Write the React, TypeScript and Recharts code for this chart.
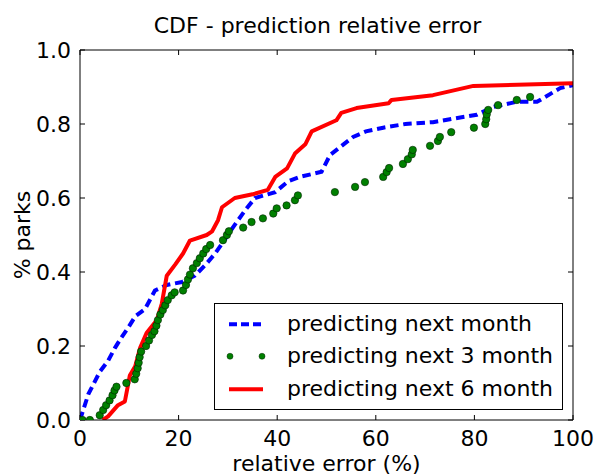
import React from 'react';
import { ComposedChart, Line, Scatter, XAxis, YAxis } from 'recharts';

const FONT = '"DejaVu Sans", sans-serif';

const xTicks = [0, 20, 40, 60, 80, 100];
const yTicks = [0, 0.2, 0.4, 0.6, 0.8, 1.0];

const seriesNames = ['predicting next month', 'predicting next 3 month', 'predicting next 6 month'];

// predicting next month (blue dashed)
const errNextMonth = [0, 1.7, 4, 5.7, 7.1, 8.5, 9.8, 11.2, 13.2, 15.2, 17.6, 20.7, 23.3, 25.5, 27.4, 29, 31, 33.5, 35.5, 39.6, 42.2, 44.6, 49, 50.7, 53, 55.4, 58, 61.5, 66, 71.6, 76, 80.5, 83.8, 88.6, 92.7, 97.4, 100];
const cdfNextMonth = [0, 0.07, 0.13, 0.16, 0.195, 0.225, 0.25, 0.28, 0.3, 0.35, 0.365, 0.373, 0.39, 0.42, 0.45, 0.48, 0.52, 0.567, 0.6, 0.616, 0.645, 0.657, 0.671, 0.716, 0.74, 0.765, 0.78, 0.79, 0.8, 0.805, 0.815, 0.825, 0.846, 0.86, 0.86, 0.897, 0.905];

// predicting next 3 month (green dots)
const errNext3Month = [0.5, 2, 4, 4.7, 5.3, 6, 6.6, 7, 7.4, 9.4, 11.1, 11.4, 11.7, 11.9, 12.1, 12.4, 13.4, 14, 14.6, 15.1, 15.5, 15.8, 16.3, 16.8, 17.3, 17.8, 18.6, 19.2, 20.9, 21.5, 21.9, 22.3, 22.9, 23.7, 24.3, 25, 25.6, 26.4, 29, 29.8, 30.2, 33.1, 34.8, 37.1, 39.2, 39.9, 41.9, 43.6, 44.2, 51.7, 55.8, 57.8, 61.5, 62.2, 62.7, 65.5, 66.5, 67.3, 67.5, 71, 72.6, 73, 75.3, 79.9, 82.2, 82.4, 82.5, 82.8, 84.8, 88.6, 91.3];
const cdfNext3Month = [0, 0, 0.013, 0.027, 0.04, 0.053, 0.067, 0.08, 0.09, 0.1, 0.11, 0.125, 0.14, 0.155, 0.17, 0.185, 0.2, 0.215, 0.23, 0.24, 0.255, 0.27, 0.285, 0.297, 0.31, 0.324, 0.337, 0.345, 0.35, 0.365, 0.38, 0.393, 0.41, 0.424, 0.437, 0.45, 0.462, 0.473, 0.486, 0.5, 0.51, 0.52, 0.535, 0.545, 0.558, 0.572, 0.58, 0.594, 0.607, 0.616, 0.63, 0.643, 0.657, 0.67, 0.681, 0.692, 0.705, 0.718, 0.73, 0.741, 0.754, 0.765, 0.778, 0.79, 0.8, 0.813, 0.826, 0.838, 0.851, 0.865, 0.873];

// predicting next 6 month (red solid)
const errNext6Month = [4.6, 5.7, 7.7, 9.1, 10.1, 11.2, 12.2, 13.5, 15.6, 16.6, 17.6, 19.3, 20.9, 22.3, 25.7, 26.8, 28, 28.8, 31.4, 35, 38.1, 39.6, 42, 43.6, 45.7, 47, 52, 53, 56.1, 62.6, 63.2, 71.6, 79.8, 100];
const cdfNext6Month = [0, 0.01, 0.04, 0.05, 0.12, 0.145, 0.195, 0.235, 0.27, 0.315, 0.39, 0.42, 0.45, 0.485, 0.5, 0.51, 0.54, 0.575, 0.6, 0.61, 0.622, 0.657, 0.68, 0.72, 0.745, 0.78, 0.81, 0.83, 0.843, 0.856, 0.865, 0.878, 0.903, 0.91];

const toPoints = (xs: number[], ys: number[]) => xs.map((x, i) => ({ x, y: ys[i] }));

const dataNextMonth = toPoints(errNextMonth, cdfNextMonth);
const dataNext3Month = toPoints(errNext3Month, cdfNext3Month);
const dataNext6Month = toPoints(errNext6Month, cdfNext6Month);

const BLUE = '#0000ff';
const GREEN = '#008000';
const RED = '#ff0000';

const tickStyle = { fontSize: 22, fill: '#000', fontFamily: FONT };

const GreenDot = (props: any) => {
  const { cx, cy } = props;
  if (cx == null || cy == null) return null;
  return <circle cx={cx} cy={cy} r={3.7} fill={GREEN} stroke="#002200" strokeWidth={0.6} />;
};

const YLabel = (props: any) => {
  const vb = props.viewBox || { x: 0, y: 50, width: 80, height: 370 };
  const cx = vb.x + 22;
  const cy = vb.y + vb.height / 2;
  return (
    <text
      x={cx}
      y={cy}
      transform={`rotate(-90 ${cx} ${cy})`}
      textAnchor="middle"
      dominantBaseline="central"
      fontSize={22}
      fontFamily={FONT}
      fill="#000"
    >
      % parks
    </text>
  );
};

const TitleLabel = (props: any) => {
  const vb = props.viewBox || { x: 80, y: 49, width: 493, height: 1 };
  const cx = vb.x + vb.width / 2 - 9;
  return (
    <text x={cx} y={vb.y - 16} textAnchor="middle" fontSize={22} fontFamily={FONT} fill="#000">
      CDF - prediction relative error
    </text>
  );
};

const LegendRow = ({ icon, text }: { icon: React.ReactNode; text: string }) => (
  <div style={{ display: 'flex', alignItems: 'center', height: 32.5, lineHeight: '32.5px', whiteSpace: 'nowrap' }}>
    <svg width={34} height={32.5} style={{ display: 'block', marginLeft: 14, overflow: 'visible' }}>
      {icon}
    </svg>
    <span style={{ marginLeft: 24 }}>{text}</span>
  </div>
);

export default function App() {
  return (
    <div style={{ position: 'absolute', left: 0, top: 0, width: 597, height: 475, background: '#fff' }}>
      <ComposedChart width={597} height={475} margin={{ top: 49, right: 23, bottom: 0, left: 0 }}>
        <XAxis
          type="number"
          dataKey="x"
          domain={[0, 100]}
          ticks={xTicks}
          interval={0}
          allowDataOverflow
          height={55}
          stroke="#000"
          tickSize={-5}
          tickMargin={15}
          tick={tickStyle}
          label={{ value: 'relative error (%)', position: 'insideBottom', offset: 4, fontSize: 22, fill: '#000', fontFamily: FONT }}
        />
        <XAxis
          xAxisId="top"
          orientation="top"
          type="number"
          dataKey="x"
          domain={[0, 100]}
          ticks={xTicks}
          interval={0}
          allowDataOverflow
          height={1}
          stroke="#000"
          tickSize={-5}
          tick={{ fontSize: 0 }}
          tickFormatter={() => ''}
          label={TitleLabel}
        />
        <YAxis
          type="number"
          dataKey="y"
          domain={[0, 1]}
          ticks={yTicks}
          interval={0}
          allowDataOverflow
          width={80}
          stroke="#000"
          tickSize={-5}
          tickMargin={14}
          tick={tickStyle}
          tickFormatter={(v: number) => v.toFixed(1)}
          label={YLabel}
        />
        <YAxis
          yAxisId="right"
          orientation="right"
          type="number"
          dataKey="y"
          domain={[0, 1]}
          ticks={yTicks}
          interval={0}
          allowDataOverflow
          width={1}
          stroke="#000"
          tickSize={-5}
          tick={{ fontSize: 0 }}
          tickFormatter={() => ''}
        />
        <Line
          data={dataNextMonth}
          dataKey="y"
          name={seriesNames[0]}
          type="linear"
          stroke={BLUE}
          strokeWidth={4}
          strokeDasharray="8.5 4.8"
          dot={false}
          activeDot={false}
          isAnimationActive={false}
        />
        <Scatter
          data={dataNext3Month}
          dataKey="y"
          name={seriesNames[1]}
          fill={GREEN}
          shape={GreenDot}
          isAnimationActive={false}
        />
        <Line
          data={dataNext6Month}
          dataKey="y"
          name={seriesNames[2]}
          type="linear"
          stroke={RED}
          strokeWidth={4}
          strokeLinejoin="round"
          dot={false}
          activeDot={false}
          isAnimationActive={false}
        />
      </ComposedChart>
      <div
        style={{
          position: 'absolute',
          left: 214,
          top: 303,
          width: 349,
          height: 107,
          boxSizing: 'border-box',
          border: '1px solid #000',
          background: '#fff',
          padding: '3.75px 0',
          fontFamily: FONT,
          fontSize: 22,
          color: '#000',
        }}
      >
        <LegendRow
          text={seriesNames[0]}
          icon={<line x1={0} y1={16.25} x2={34} y2={16.25} stroke={BLUE} strokeWidth={4} strokeDasharray="8 4" />}
        />
        <LegendRow
          text={seriesNames[1]}
          icon={
            <g>
              <circle cx={1} cy={16.25} r={3} fill={GREEN} stroke="#002200" strokeWidth={0.5} />
              <circle cx={33} cy={16.25} r={3} fill={GREEN} stroke="#002200" strokeWidth={0.5} />
            </g>
          }
        />
        <LegendRow
          text={seriesNames[2]}
          icon={<line x1={0} y1={16.25} x2={34} y2={16.25} stroke={RED} strokeWidth={4} />}
        />
      </div>
    </div>
  );
}
